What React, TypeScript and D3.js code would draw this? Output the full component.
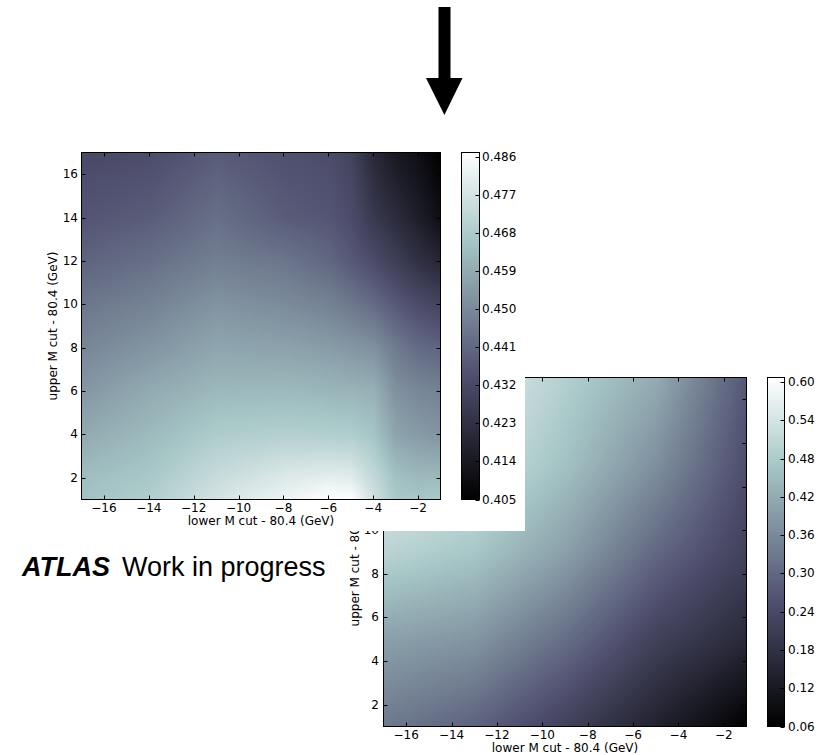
import React, { useEffect, useRef } from 'react';
import * as d3 from 'd3';

// ---------- data ----------
const TICK_X = [-16, -14, -12, -10, -8, -6, -4, -2];
const TICK_Y = [2, 4, 6, 8, 10, 12, 14, 16];

// Top map (grid of values), rows = TOP_Y, cols = TOP_X
const TOP_X = [-17, -14, -11, -8, -6, -5, -4, -3, -2, -1];
const TOP_Y = [1, 2, 4, 6, 8, 10, 12, 14, 17];
const TOP_Z = [
  [0.465, 0.469, 0.477, 0.483, 0.487, 0.487, 0.476, 0.467, 0.467, 0.468],
  [0.464, 0.467, 0.474, 0.479, 0.481, 0.480, 0.473, 0.465, 0.463, 0.463],
  [0.4587, 0.463, 0.4683, 0.4696, 0.469, 0.4687, 0.466, 0.457, 0.4545, 0.453],
  [0.4535, 0.4587, 0.4626, 0.4631, 0.462, 0.4613, 0.4605, 0.452, 0.4494, 0.448],
  [0.4492, 0.453, 0.4575, 0.4566, 0.455, 0.4535, 0.452, 0.446, 0.4418, 0.440],
  [0.4449, 0.448, 0.4527, 0.4505, 0.448, 0.4453, 0.442, 0.437, 0.433, 0.430],
  [0.4399, 0.443, 0.447, 0.4447, 0.441, 0.437, 0.433, 0.428, 0.423, 0.419],
  [0.4358, 0.438, 0.4431, 0.4379, 0.436, 0.433, 0.426, 0.421, 0.416, 0.410],
  [0.4321, 0.433, 0.4377, 0.4345, 0.433, 0.430, 0.420, 0.414, 0.410, 0.405],
];
const TOP_CB_TICKS = [0.405, 0.414, 0.423, 0.432, 0.441, 0.45, 0.459, 0.468, 0.477, 0.486];
const TOP_RANGE = [0.405, 0.487];

// Bottom map
const BOT_X = [-17, -13, -9, -5, -1];
const BOT_Y = [1, 5, 9, 13, 17];
const BOT_Z = [
  [0.33, 0.29, 0.22, 0.14, 0.06],
  [0.40, 0.38, 0.31, 0.22, 0.16],
  [0.50, 0.47, 0.40, 0.30, 0.22],
  [0.57, 0.53, 0.46, 0.37, 0.25],
  [0.60, 0.56, 0.49, 0.42, 0.27],
];
const BOT_CB_TICKS = [0.06, 0.12, 0.18, 0.24, 0.3, 0.36, 0.42, 0.48, 0.54, 0.6];
const BOT_RANGE = [0.06, 0.607];

const BONE_T = [0, 0.365079, 0.746032, 1];
const BONE_C = ['#000000', 'rgb(81,81,113)', 'rgb(166,198,198)', '#ffffff'];

const X_LABEL = 'lower M cut - 80.4 (GeV)';
const Y_LABEL = 'upper M cut - 80.4 (GeV)';

// ---------- helpers ----------
function bilinear(xs: number[], ys: number[], z: number[][], x: number, y: number) {
  const i = Math.max(0, Math.min(xs.length - 2, d3.bisectRight(xs, x) - 1));
  const j = Math.max(0, Math.min(ys.length - 2, d3.bisectRight(ys, y) - 1));
  const tx = Math.max(0, Math.min(1, (x - xs[i]) / (xs[i + 1] - xs[i])));
  const ty = Math.max(0, Math.min(1, (y - ys[j]) / (ys[j + 1] - ys[j])));
  const a = z[j][i] * (1 - tx) + z[j][i + 1] * tx;
  const b = z[j + 1][i] * (1 - tx) + z[j + 1][i + 1] * tx;
  return a * (1 - ty) + b * ty;
}

const FONT = 'DejaVu Sans, sans-serif';
const fmtMinus = (v: number) => (v < 0 ? '\u2212' + Math.abs(v) : String(v));

function drawPlot(svg: any, cfg: any) {
  const { x0, x1, y0, y1, xs, ys, z, range, cbx0, cbx1, cbTicks, cbFmt, fs, id,
    xLabY, tickLabY, yLabX, yTickRight, cbLabX } = cfg;
  const g = svg.append('g');
  const xScale = d3.scaleLinear().domain([-17, -1]).range([x0, x1]);
  const yScale = d3.scaleLinear().domain([1, 17]).range([y1, y0]);
  const norm = d3.scaleLinear().domain(range).range([0, 1]).clamp(true);
  const bone = d3.scaleLinear<string>().domain(BONE_T).range(BONE_C).interpolate(d3.interpolateRgb);

  const step = 2;
  const cells: any[] = [];
  for (let px = x0; px < x1; px += step) {
    for (let py = y0; py < y1; py += step) {
      const w = Math.min(step, x1 - px);
      const h = Math.min(step, y1 - py);
      const dx = xScale.invert(px + w / 2);
      const dy = yScale.invert(py + h / 2);
      const v = bilinear(xs, ys, z, dx, dy);
      cells.push({ px, py, w, h, c: bone(norm(v)) });
    }
  }
  g.append('g').selectAll('rect').data(cells).join('rect')
    .attr('x', (d: any) => d.px).attr('y', (d: any) => d.py)
    .attr('width', (d: any) => d.w + 0.6).attr('height', (d: any) => d.h + 0.6)
    .attr('fill', (d: any) => d.c).attr('shape-rendering', 'crispEdges');

  // frame
  g.append('rect').attr('x', x0).attr('y', y0).attr('width', x1 - x0).attr('height', y1 - y0)
    .attr('fill', 'none').attr('stroke', '#000').attr('stroke-width', 1);

  const tl = 4;
  TICK_X.forEach((t) => {
    const x = Math.round(xScale(t)) + 0.5;
    g.append('line').attr('x1', x).attr('x2', x).attr('y1', y1).attr('y2', y1 - tl).attr('stroke', '#000');
    g.append('line').attr('x1', x).attr('x2', x).attr('y1', y0).attr('y2', y0 + tl).attr('stroke', '#000');
    g.append('text').attr('x', xScale(t)).attr('y', tickLabY).attr('text-anchor', 'middle')
      .attr('dominant-baseline', 'central').attr('font-family', FONT).attr('font-size', fs)
      .attr('fill', '#000').text(fmtMinus(t));
  });
  TICK_Y.forEach((t) => {
    const y = Math.round(yScale(t)) + 0.5;
    g.append('line').attr('x1', x0).attr('x2', x0 + tl).attr('y1', y).attr('y2', y).attr('stroke', '#000');
    g.append('line').attr('x1', x1).attr('x2', x1 - tl).attr('y1', y).attr('y2', y).attr('stroke', '#000');
    g.append('text').attr('x', yTickRight).attr('y', yScale(t)).attr('text-anchor', 'end')
      .attr('dominant-baseline', 'central').attr('font-family', FONT).attr('font-size', fs)
      .attr('fill', '#000').text(fmtMinus(t));
  });
  g.append('text').attr('x', (x0 + x1) / 2).attr('y', xLabY).attr('text-anchor', 'middle')
    .attr('dominant-baseline', 'central').attr('font-family', FONT).attr('font-size', fs)
    .attr('fill', '#000').text(X_LABEL);
  g.append('text').attr('transform', `translate(${yLabX},${(y0 + y1) / 2}) rotate(-90)`)
    .attr('text-anchor', 'middle').attr('dominant-baseline', 'central').attr('font-family', FONT)
    .attr('font-size', fs).attr('fill', '#000').text(Y_LABEL);

  // colorbar
  const defs = svg.append('defs');
  const grad = defs.append('linearGradient').attr('id', id).attr('x1', 0).attr('y1', 1).attr('x2', 0).attr('y2', 0);
  BONE_T.forEach((t, i) => grad.append('stop').attr('offset', t).attr('stop-color', BONE_C[i]));
  g.append('rect').attr('x', cbx0).attr('y', y0).attr('width', cbx1 - cbx0).attr('height', y1 - y0)
    .attr('fill', `url(#${id})`).attr('stroke', '#000').attr('stroke-width', 1);
  const cbScale = d3.scaleLinear().domain(range).range([y1, y0]);
  cbTicks.forEach((t: number) => {
    const y = Math.round(cbScale(t)) + 0.5;
    g.append('line').attr('x1', cbx1).attr('x2', cbx1 - 4).attr('y1', y).attr('y2', y).attr('stroke', '#000');
    g.append('text').attr('x', cbLabX).attr('y', cbScale(t)).attr('dominant-baseline', 'central')
      .attr('font-family', FONT).attr('font-size', fs).attr('fill', '#000').text(cbFmt(t));
  });
}

export default function App() {
  const ref = useRef<SVGSVGElement>(null);
  useEffect(() => {
    const svg = d3.select(ref.current);
    svg.selectAll('*').remove();
    svg.append('rect').attr('width', 819).attr('height', 755).attr('fill', '#fff');

    // bottom (behind) plot
    drawPlot(svg, {
      id: 'cbBot', x0: 383.5, x1: 746.5, y0: 377.5, y1: 726.5,
      xs: BOT_X, ys: BOT_Y, z: BOT_Z, range: BOT_RANGE,
      cbx0: 767.5, cbx1: 784.5, cbTicks: BOT_CB_TICKS, cbFmt: d3.format('.2f'),
      fs: 12, tickLabY: 735, xLabY: 748, yLabX: 355, yTickRight: 379, cbLabX: 788,
    });

    // white background of the top figure covering the bottom one
    svg.append('rect').attr('x', 300).attr('y', 360).attr('width', 225).attr('height', 171).attr('fill', '#fff');

    // top plot
    drawPlot(svg, {
      id: 'cbTop', x0: 81.5, x1: 440.5, y0: 152.5, y1: 499.5,
      xs: TOP_X, ys: TOP_Y, z: TOP_Z, range: TOP_RANGE,
      cbx0: 461.5, cbx1: 479.5, cbTicks: TOP_CB_TICKS, cbFmt: d3.format('.3f'),
      fs: 12, tickLabY: 508, xLabY: 521, yLabX: 53, yTickRight: 78, cbLabX: 482,
    });

    // arrow
    svg.append('path')
      .attr('d', 'M438.5,7 L450.5,7 L450.5,78 L462.5,78 L444.4,115 L426,78 L438.5,78 Z')
      .attr('fill', '#000');

    // ATLAS label
    const t = svg.append('text').attr('x', 22).attr('y', 576)
      .attr('font-family', 'Liberation Sans, Arial, sans-serif').attr('font-size', 27).attr('fill', '#000');
    t.append('tspan').attr('font-weight', 'bold').attr('font-style', 'italic').text('ATLAS');
    t.append('tspan').attr('dx', 12).text('Work in progress');
  }, []);
  return <svg ref={ref} width={819} height={755} style={{ display: 'block', position: 'absolute', left: 0, top: 0 }} />;
}
